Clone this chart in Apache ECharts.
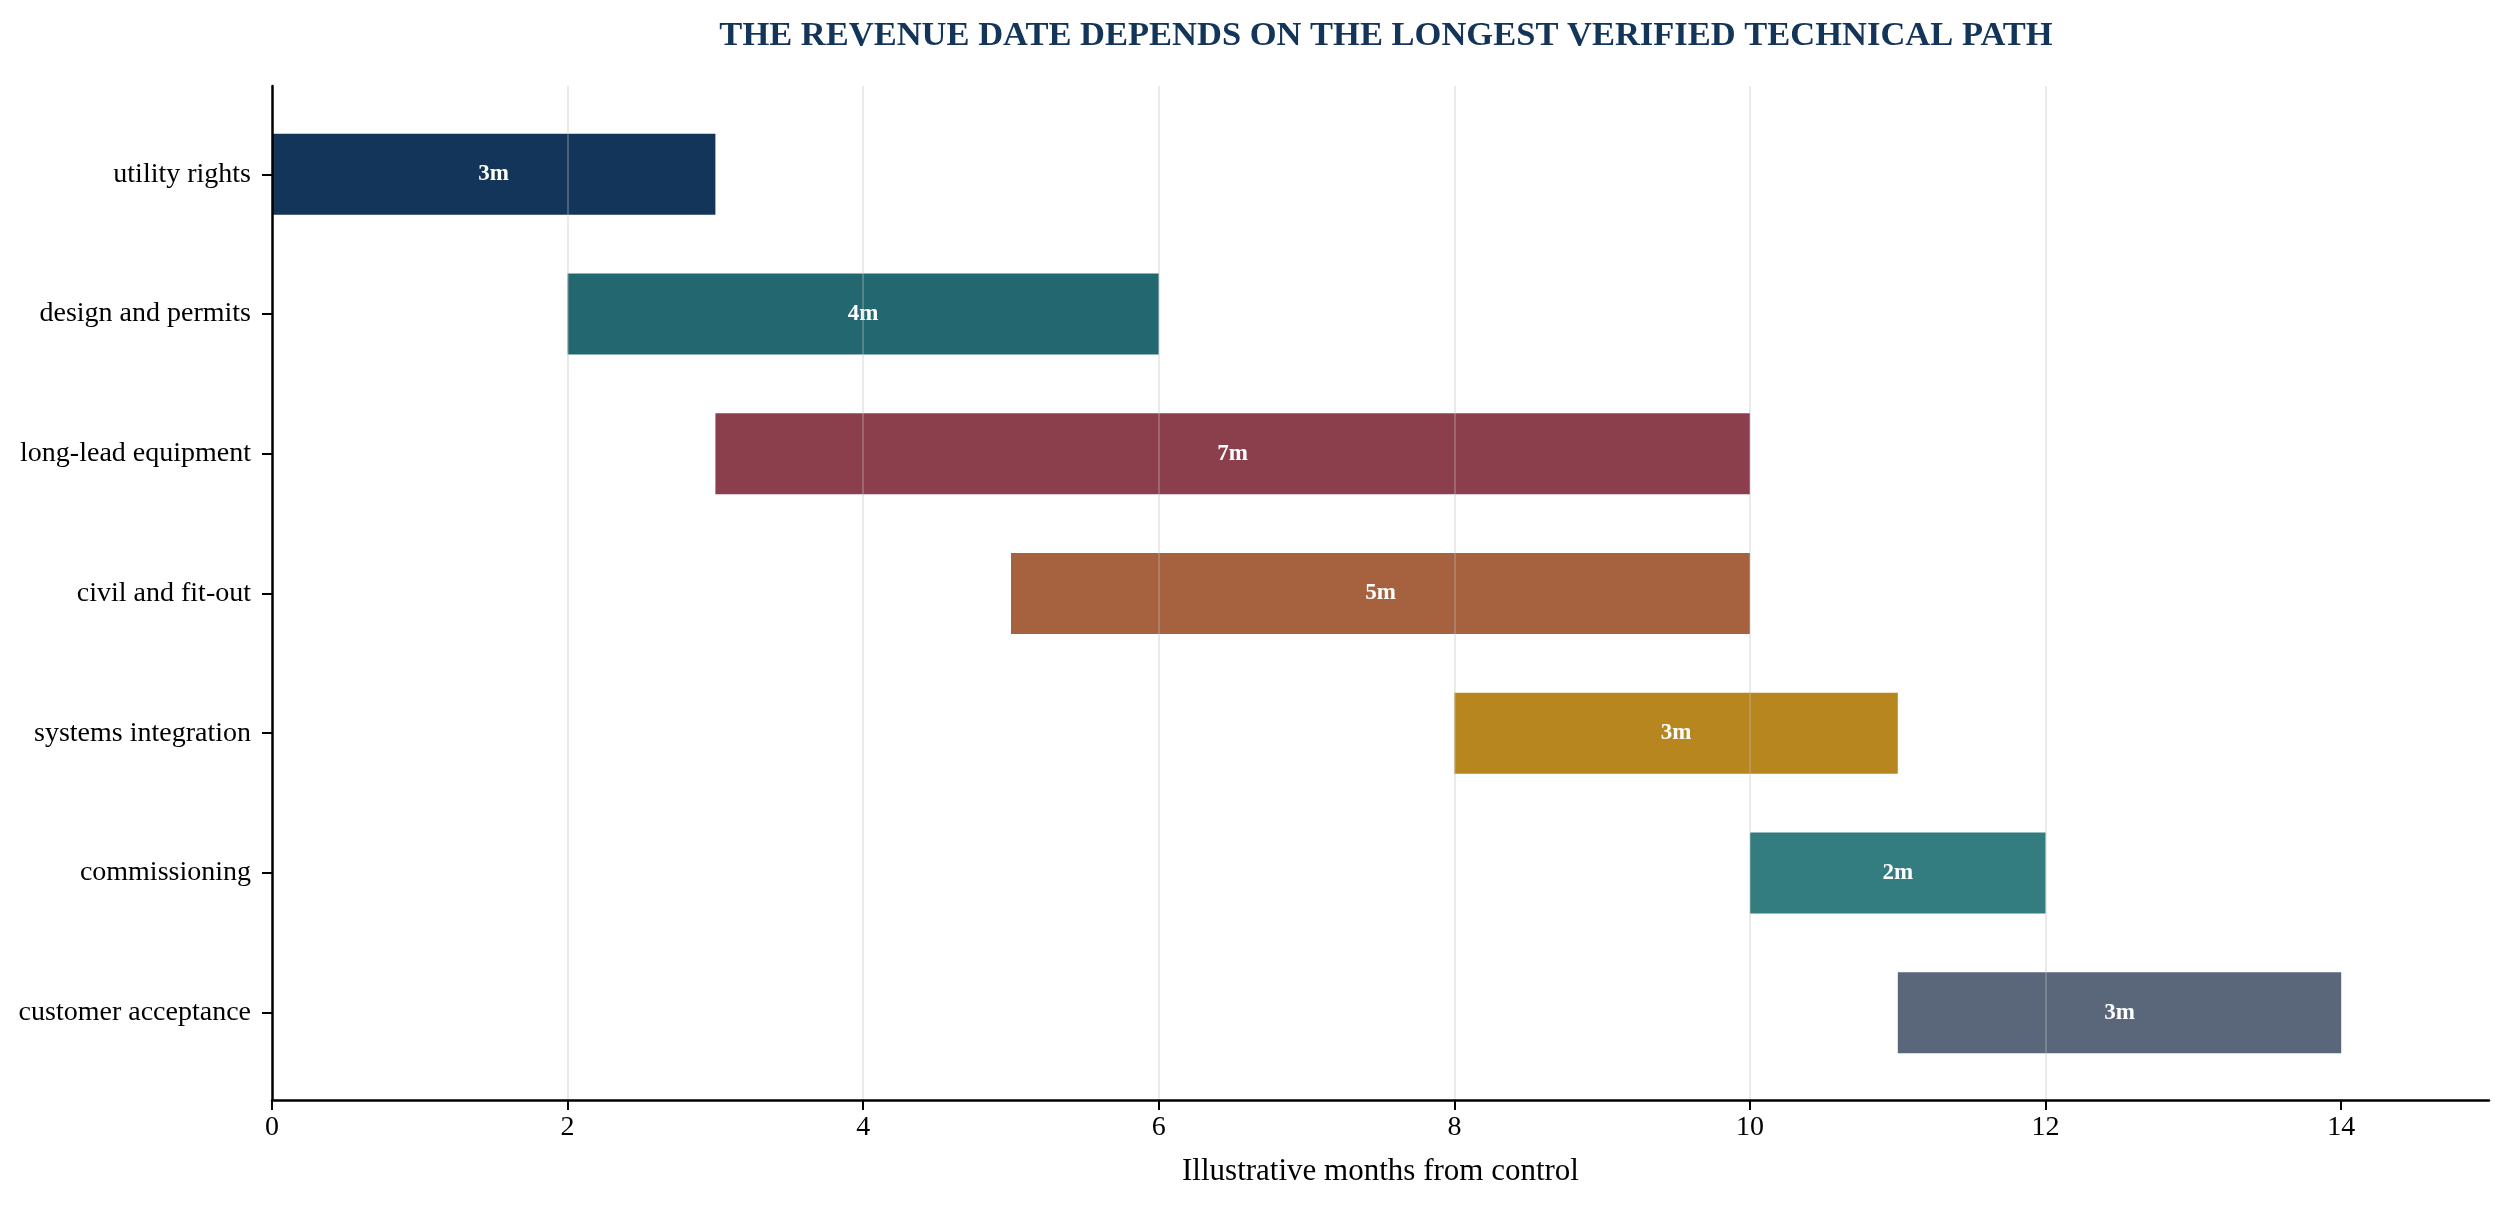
<!DOCTYPE html>
<html>
<head>
<meta charset="utf-8">
<script src="https://cdn.jsdelivr.net/npm/echarts@6/dist/echarts.min.js"></script>
<style>
  html, body { margin: 0; padding: 0; background: #fff; }
  #chart { width: 2511px; height: 1209px; }
</style>
</head>
<body>
<div id="chart"></div>
<script>
const stages = [
  "utility rights",
  "design and permits",
  "long-lead equipment",
  "civil and fit-out",
  "systems integration",
  "commissioning",
  "customer acceptance",
];
const stageStart = [0, 2, 3, 5, 8, 10, 11];
const stageMonths = [3, 4, 7, 5, 3, 2, 3];
const stageColors = [
  "#14355a",
  "#236870",
  "#8b3f4d",
  "#a6623e",
  "#b8861f",
  "#337c80",
  "#5a6679",
];
const monthTicks = [0, 2, 4, 6, 8, 10, 12, 14];
const rowTicks = [0, 1, 2, 3, 4, 5, 6];

const barHeight = 0.58;
const serif = "'Liberation Serif', 'Times New Roman', serif";

const chart = echarts.init(document.getElementById("chart"));

const option = {
  backgroundColor: "#fff",
  animation: false,
  title: {
    text: "THE REVENUE DATE DEPENDS ON THE LONGEST VERIFIED TECHNICAL PATH",
    left: 1381,
    textAlign: "center",
    top: 14,
    textStyle: {
      fontFamily: serif,
      fontWeight: "bold",
      fontSize: 34.5,
      color: "#14355a",
    },
  },
  grid: {
    left: 272,
    right: 22,
    top: 86,
    bottom: 109,
  },
  xAxis: {
    type: "value",
    min: 0,
    max: 15,
    interval: 2,
    name: "Illustrative months from control",
    nameLocation: "middle",
    nameGap: 56,
    nameTextStyle: { fontFamily: serif, fontSize: 31, color: "#000" },
    axisLine: { show: true, onZero: false, lineStyle: { color: "#000", width: 2.5 } },
    axisTick: {
      show: true,
      length: 10,
      customValues: monthTicks,
      lineStyle: { color: "#000", width: 2 },
    },
    axisLabel: {
      customValues: monthTicks,
      margin: 14,
      fontFamily: serif,
      fontSize: 28,
      color: "#000",
    },
    splitLine: {
      show: true,
      showMinLine: false,
      showMaxLine: false,
      lineStyle: { color: "rgba(190,190,190,0.32)", width: 2 },
    },
  },
  yAxis: {
    type: "value",
    inverse: true,
    min: -0.632,
    max: 6.625,
    axisLine: { show: true, onZero: false, lineStyle: { color: "#000", width: 2.5 } },
    axisTick: {
      show: true,
      length: 10,
      customValues: rowTicks,
      lineStyle: { color: "#000", width: 2 },
    },
    axisLabel: {
      customValues: rowTicks,
      margin: 21,
      fontFamily: serif,
      fontSize: 28,
      color: "#000",
      formatter: (v) => stages[Math.round(v)],
    },
    splitLine: { show: false },
  },
  series: [
    {
      type: "custom",
      z: -1,
      encode: { x: [1, 2], y: 0 },
      data: stages.map((s, i) => [i, stageStart[i], stageStart[i] + stageMonths[i], stageMonths[i]]),
      renderItem: function (params, api) {
        const row = api.value(0);
        const start = api.coord([api.value(1), row]);
        const end = api.coord([api.value(2), row]);
        const h = api.size([0, barHeight])[1];
        return {
          type: "rect",
          shape: { x: start[0], y: start[1] - h / 2, width: end[0] - start[0], height: h },
          style: { fill: stageColors[params.dataIndex] },
          textContent: {
            style: {
              text: api.value(3) + "m",
              fill: "#fff",
              fontFamily: serif,
              fontWeight: "bold",
              fontSize: 23,
            },
          },
          textConfig: { position: "inside" },
        };
      },
    },
  ],
};

option && chart.setOption(option);
</script>
</body>
</html>
